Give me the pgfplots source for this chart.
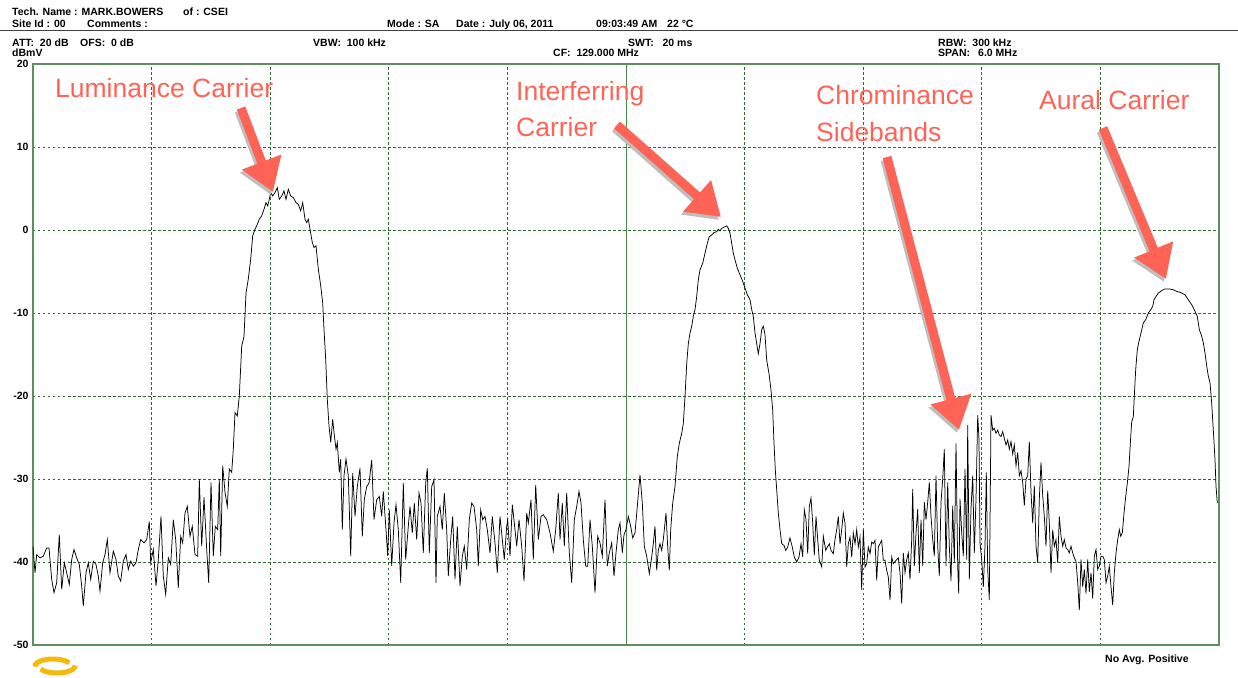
\documentclass[border=0pt]{standalone}
\usepackage{fontspec}
\setmainfont{Liberation Sans}
\usepackage{pgfplots}
\pgfplotsset{compat=1.18}
\usetikzlibrary{arrows.meta}
\definecolor{gridgreen}{HTML}{2E6B2E}
\definecolor{framegreen}{HTML}{5E8F5E}
\definecolor{centergreen}{HTML}{4F8A4F}
\definecolor{annot}{HTML}{FF6356}
\definecolor{shadowgray}{HTML}{BEBEBE}
\definecolor{logoyellow}{HTML}{F6B80F}
\newcommand{\hdr}{\fontsize{10.5pt}{12pt}\selectfont\bfseries}
\newcommand{\ann}{\fontsize{26.5pt}{36pt}\selectfont}
\newcommand{\annarrow}[4]{%
  \draw[shadowgray, line width=9pt, -{Triangle[length=32pt,width=40pt]}] (#1-2,-#2-3) -- (#3-2,-#4-3);
  \draw[annot, line width=9pt, -{Triangle[length=32pt,width=40pt]}] (#1,-#2) -- (#3,-#4);}

% sweep point index (0..1186) vs level in dBmV
\pgfplotstableread{
x y
0 -38.1
2 -41.3
3.7 -39.1
7 -39.5
10.3 -39.3
13.7 -38.3
16 -38.3
18.7 -42.1
21 -43.7
23.7 -42.5
26.3 -36.7
28.7 -43.3
31.3 -40.1
33.7 -41.3
36.3 -42.7
38.7 -39.7
41 -38.5
43.7 -39.5
46.3 -40.3
48.7 -42.9
50.3 -45.3
53 -41.3
55.3 -40.1
57.7 -42.1
60.3 -39.9
63 -40.3
65.3 -41.7
67 -43.5
69.7 -40.1
72 -39.1
74.3 -37.3
77 -41.3
80.3 -38.7
83 -39.7
85.3 -41.7
87.7 -42.3
90.3 -39.9
93 -39.1
95.3 -40.9
97.7 -39.9
100.3 -40.5
103 -40.1
105.3 -38.5
107.7 -37.3
111 -37.7
113.7 -37.3
116.3 -35.1
117.7 -40.1
120.3 -38.5
123 -42.9
125.3 -39.7
128 -34.5
130.3 -41.7
132.7 -43.9
135.3 -39.5
137.7 -40.3
140.3 -34.9
142.7 -37.3
145.3 -43.1
147.7 -36.9
149.7 -37.7
152 -34.1
154.3 -33.3
157 -36.9
159.3 -35.7
162 -39.1
164.7 -39.3
166.3 -30.0
168.7 -38.1
171 -32.2
173.7 -38.5
175.7 -42.5
178 -30.4
180.3 -39.3
182.3 -35.7
184.7 -36.1
186.3 -30.0
187.7 -39.3
189.7 -28.4
192 -31.6
194.3 -33.3
196.3 -28.8
198.7 -29.2
200.3 -26.4
202 -22.0
204.3 -22.4
206.3 -20.0
208.7 -14.0
211 -12.8
213 -7.6
215.3 -5.9
217.7 -3.5
219.7 -0.7
222 0.1
223.7 0.5
226.3 1.3
228.7 1.7
231 2.5
233 3.3
234.7 2.9
236.3 3.7
237.7 4.5
239.7 4.1
242 4.5
244.3 5.1
246.3 3.7
248.7 4.1
251 4.7
253 3.7
255.3 4.9
257.7 4.1
260.3 3.9
263 3.3
265.3 3.1
267.7 2.3
269.7 3.3
272 1.3
273.7 0.9
275.3 1.3
277 0.1
279.3 -1.5
281 -2.1
283 -1.9
285.3 -4.7
287.7 -6.7
289.7 -8.8
291 -12.0
292.7 -15.6
294.3 -20.4
296 -23.6
297.7 -25.6
299.7 -22.8
301 -24.4
303 -26.4
304.3 -25.6
306.3 -29.2
307.7 -27.6
309.3 -36.1
311 -29.6
313 -27.6
315.3 -29.6
317.7 -39.3
319.7 -29.3
322 -34.5
324.3 -30.9
327 -28.7
329.3 -36.9
331.3 -32.5
333.7 -30.9
336 -30.5
338.7 -27.7
341 -34.9
343.7 -32.5
346.3 -32.1
348.7 -34.5
350.3 -31.5
353 -36.1
354.7 -39.3
356.3 -33.7
358.7 -40.5
361 -35.3
363 -33.1
365.3 -36.1
367.7 -42.5
370.3 -30.5
372.7 -39.7
375.3 -35.7
377 -33.3
379.3 -36.5
381.3 -32.9
383.7 -37.3
386 -31.7
388 -32.9
390.3 -38.9
392.7 -30.5
394.3 -28.7
396.3 -38.9
398.7 -30.9
401 -30.1
403 -42.5
404.3 -34.5
407 -33.3
409.3 -36.1
411.3 -31.7
413.7 -36.1
415.3 -41.7
417.7 -37.3
419.7 -34.5
422 -42.1
424.3 -35.7
427 -42.9
429.3 -39.3
431.3 -38.1
433.7 -40.9
436.3 -34.9
438.7 -32.9
441 -33.3
443.7 -36.1
445.3 -40.5
447.7 -33.7
449.7 -34.9
452 -34.5
454.3 -36.1
457 -38.9
459.3 -34.5
462 -37.7
464.3 -41.3
467 -34.5
469.3 -37.3
471.3 -39.7
473.7 -35.7
474.7 -34.9
477 -39.3
479.3 -33.1
481.3 -35.3
483.7 -38.1
486 -34.9
488.7 -38.1
491 -42.3
493.7 -34.1
495.3 -35.3
498 -32.5
500.3 -39.7
502.7 -30.7
505.3 -37.3
508 -34.5
510.3 -34.3
513.7 -34.9
517 -36.5
520.3 -38.7
522.7 -36.1
525.3 -31.7
527 -37.3
529.3 -32.9
531.3 -38.1
533.7 -31.7
536.3 -38.9
538.7 -42.5
541.3 -34.9
543.7 -33.3
546 -31.5
548 -32.9
550.3 -37.3
552.7 -40.5
554.7 -40.5
557 -34.9
559.3 -38.1
562 -43.7
564.7 -36.9
567 -37.7
569.3 -39.3
572 -32.5
574.3 -40.5
576.3 -38.9
578.7 -37.7
581 -41.7
583 -38.9
585.3 -36.1
587 -35.3
589.3 -38.9
591 -36.7
593 -36.1
595.3 -34.5
597.7 -35.7
599.7 -37.1
602 -36.5
604.3 -33.3
607 -29.5
609.3 -32.9
611.3 -38.1
613.7 -39.3
616.3 -41.4
618.7 -39.4
620.3 -37.8
622 -35.7
623.7 -41.0
625.3 -38.6
627 -37.8
628.7 -38.6
630.3 -37.3
633 -34.1
634.7 -38.2
636.3 -41.0
637.7 -36.1
639.7 -32.9
642 -30.9
644.3 -27.3
646.3 -25.7
648.7 -24.5
650.3 -23.3
652 -20.1
653.7 -16.1
655.3 -13.7
657 -12.4
658.7 -11.6
660.3 -10.4
662 -9.6
663.7 -8.0
665.3 -6.0
667 -4.8
669.7 -4.0
672 -2.8
674.3 -1.6
676.3 -0.8
678.7 -0.6
681 -0.3
683.7 -0.2
685.3 0.1
687 -0.1
688.7 0.2
690.3 0.3
692 0.4
693.7 0.5
695.3 0.2
697 -0.4
698.7 -1.6
700.3 -2.8
702 -3.6
704.3 -4.6
707 -5.4
709.7 -6.2
712 -7.0
714.3 -7.8
717 -8.4
718.7 -9.6
720.3 -10.4
722 -12.4
723.7 -13.7
725.3 -14.9
727 -13.7
728.7 -12.0
730.3 -11.6
732 -12.6
733.7 -15.7
736 -17.3
738 -19.3
739.7 -21.7
741 -25.7
742.3 -28.9
743.7 -31.3
745.3 -34.1
747 -36.1
748.7 -37.8
751 -38.0
752.7 -38.6
754.7 -38.2
757 -37.1
759.3 -38.2
761.3 -39.4
763.7 -40.0
766 -39.4
768 -37.8
769.7 -39.4
771.3 -33.7
773 -34.9
774.7 -39.0
776.3 -33.3
778 -32.3
779.7 -35.3
781.3 -39.2
783 -34.5
784.7 -37.3
786.3 -39.8
788.7 -40.6
790.3 -36.9
792.7 -38.6
794.3 -38.2
796.3 -37.8
798 -38.6
800.3 -39.0
802 -37.3
803.7 -36.1
805.3 -34.5
807 -37.8
808.7 -36.1
810.3 -34.1
812 -35.3
813.7 -40.6
815.3 -37.8
817 -37.0
818.7 -39.4
820.3 -36.5
822 -37.8
823.7 -36.1
825.3 -38.2
827 -37.0
828.7 -43.4
830.3 -36.1
832 -40.6
833.7 -40.2
835.3 -38.2
837 -39.0
838.7 -37.6
840.3 -37.8
842 -37.4
843.7 -42.2
845.3 -38.2
847 -37.8
848.7 -37.4
850.3 -39.8
852 -39.8
853.7 -41.0
855.3 -41.8
857 -44.6
858.7 -39.4
860.3 -40.2
863 -39.8
865.3 -39.5
867 -41.3
868.7 -45.0
870.3 -38.9
872 -41.3
873.7 -39.7
875.3 -38.9
877 -42.1
878.7 -37.3
879.7 -31.2
881.3 -40.5
883 -36.5
884.7 -33.6
886.3 -41.3
888 -34.9
889.7 -40.5
891.3 -32.8
893 -34.9
894.7 -32.8
896.3 -30.4
898 -34.5
899.7 -37.3
901.3 -39.3
903 -29.6
904.7 -38.1
906.3 -41.7
908 -32.8
909.7 -30.0
911.3 -26.4
913 -40.5
914.7 -30.4
916.3 -38.1
918 -42.3
919.7 -33.2
921.3 -40.1
923 -25.7
924.7 -40.5
925.7 -43.8
927 -32.4
928.7 -36.5
930.3 -39.3
932 -28.8
933.7 -39.7
934.7 -23.5
936.3 -42.1
938 -33.6
939.7 -29.6
941.3 -38.9
943 -32.4
944.7 -22.3
946 -25.3
947 -37.7
948.7 -39.7
950.3 -43.0
952 -38.1
953.3 -29.2
954.7 -40.9
956.3 -44.6
958 -22.3
959.7 -24.1
961.3 -23.9
963 -24.5
964.7 -24.1
966.3 -24.7
968 -24.9
969.7 -24.3
971.3 -25.1
973 -25.9
974.7 -25.3
976.3 -26.4
978 -25.5
979.7 -27.0
981.3 -25.9
983 -28.4
984.7 -26.8
986.3 -29.6
988 -29.0
989.7 -30.4
991.3 -33.2
993 -30.0
994.7 -29.6
996.3 -25.5
998 -31.6
999.7 -35.3
1001.3 -30.8
1003 -38.1
1004.7 -40.1
1006.3 -32.4
1008 -28.0
1009.7 -32.0
1011.3 -34.5
1013 -38.1
1014.7 -31.4
1016.3 -35.3
1018 -41.3
1019.7 -36.1
1021.3 -38.1
1023 -37.3
1024.7 -40.1
1026.3 -34.5
1028 -36.9
1029.7 -38.1
1031.3 -37.3
1033 -38.3
1034.7 -38.5
1036.3 -38.9
1038 -38.1
1039.7 -38.9
1041.3 -39.5
1043 -39.9
1044.7 -42.5
1046.3 -45.8
1048 -39.7
1049.7 -43.0
1051.3 -40.9
1053 -43.8
1054.7 -39.7
1056.3 -43.6
1058 -41.3
1059.7 -44.4
1061.3 -39.3
1063 -38.5
1064.7 -40.9
1066.3 -40.5
1068 -39.3
1069.7 -39.3
1071.3 -39.7
1073 -42.5
1074.7 -41.7
1076.3 -40.5
1078 -43.0
1079.7 -45.2
1081.3 -41.3
1083 -38.9
1084.7 -37.3
1086.3 -36.1
1087.7 -36.9
1089.3 -36.5
1091 -34.1
1092.7 -32.1
1094.3 -30.5
1096 -28.5
1097.7 -24.9
1098.7 -23.1
1100.3 -22.5
1101.3 -20.0
1102.7 -16.8
1104.3 -14.4
1106 -13.4
1108 -12.4
1110.3 -11.2
1112.7 -10.8
1115.3 -10.0
1117.7 -9.6
1119.7 -9.2
1121 -8.4
1123 -8.0
1125.3 -7.6
1128.7 -7.3
1132 -7.1
1136.3 -7.1
1140.3 -7.2
1143.7 -7.4
1147 -7.5
1152 -7.8
1155.3 -8.4
1158.7 -9.0
1162 -9.8
1164.3 -10.4
1166.3 -12.0
1168.7 -12.8
1170.3 -13.6
1172 -14.8
1173.7 -16.4
1175.3 -17.6
1177 -18.4
1178.7 -20.9
1180.3 -24.1
1182 -27.7
1183 -30.9
1184.3 -32.9
}\tracedata

\begin{document}
\begin{tikzpicture}[x=1pt,y=1pt]
% ---- plot: axis box lower-left corner at the picture origin ----
\begin{axis}[
  width=1186pt, height=581pt, scale only axis,
  xmin=0, xmax=1186, ymin=-50, ymax=20,
  xtick={118.6,237.2,355.8,474.4,593,711.6,830.2,948.8,1067.4},
  xticklabels={},
  ytick={-50,-40,-30,-20,-10,0,10,20},
  yticklabels={-50,-40,-30,-20,-10,0,10,20},
  yticklabel style={font=\hdr, anchor=east, xshift=-1pt},
  major tick length=0pt,
  grid=major,
  major grid style={gridgreen, line width=0.8pt, dash pattern=on 2.5pt off 2.5pt},
  axis line style={framegreen, line width=1.4pt},
  clip=true,
]
\draw[centergreen, line width=1pt] (axis cs:593,-50) -- (axis cs:593,20);
\addplot[black, line width=0.75pt, mark=none] table[x=x,y=y] {\tracedata};
\end{axis}

% everything else in image pixel coordinates (x right, y down from top-left)
\begin{scope}[shift={(-33pt,645pt)}]
\path[use as bounding box] (0,0) rectangle (1238,-677);

% ---- header ----
\begin{scope}[every node/.style={anchor=base west, inner sep=0pt, font=\hdr}]
\node at (12,-16) {Tech. Name : MARK.BOWERS};
\node at (183,-16) {of : CSEI};
\node at (12,-28) {Site Id : 00};
\node at (87,-28) {Comments :};
\node at (387,-28) {Mode : SA};
\node at (456,-28) {Date : July 06, 2011};
\node at (596,-28) {09:03:49 AM};
\node at (667,-28) {22 °C};
\node at (12,-47) {ATT:\ \ 20 dB};
\node at (80,-47) {OFS:\ \ 0 dB};
\node at (313,-47) {VBW:\ \ 100 kHz};
\node at (628,-47) {SWT:\ \ \ 20 ms};
\node at (938,-47) {RBW:\ \ 300 kHz};
\node at (12,-57) {dBmV};
\node at (553,-57) {CF:\ \ 129.000 MHz};
\node at (938,-57) {SPAN:};
\node at (978,-57) {6.0 MHz};
\node at (1105,-662) {No Avg. Positive};
\end{scope}
\draw[line width=1pt, black!75] (0,-30.5) -- (1238,-30.5);

% ---- annotations ----
\annarrow{241}{108}{273}{192}
\annarrow{617}{125}{721}{217}
\annarrow{887}{157}{959}{430}
\annarrow{1103}{128}{1166}{279}
\begin{scope}[every node/.style={anchor=base west, inner sep=0pt, font=\ann, text=annot}]
\node at (55,-98) {Luminance Carrier};
\node at (516,-101) {Interferring};
\node at (516,-137) {Carrier};
\node at (816,-105) {Chrominance};
\node at (816,-142) {Sidebands};
\node at (1039,-110) {Aural Carrier};
\end{scope}

% ---- logo ----
\draw[logoyellow, line width=5pt] (53,-666) ++(25:18 and 7) arc[start angle=25, end angle=185, x radius=18, y radius=7];
\draw[logoyellow, line width=5pt] (57,-666) ++(205:18 and 7) arc[start angle=205, end angle=365, x radius=18, y radius=7];
\end{scope}
\end{tikzpicture}
\end{document}
